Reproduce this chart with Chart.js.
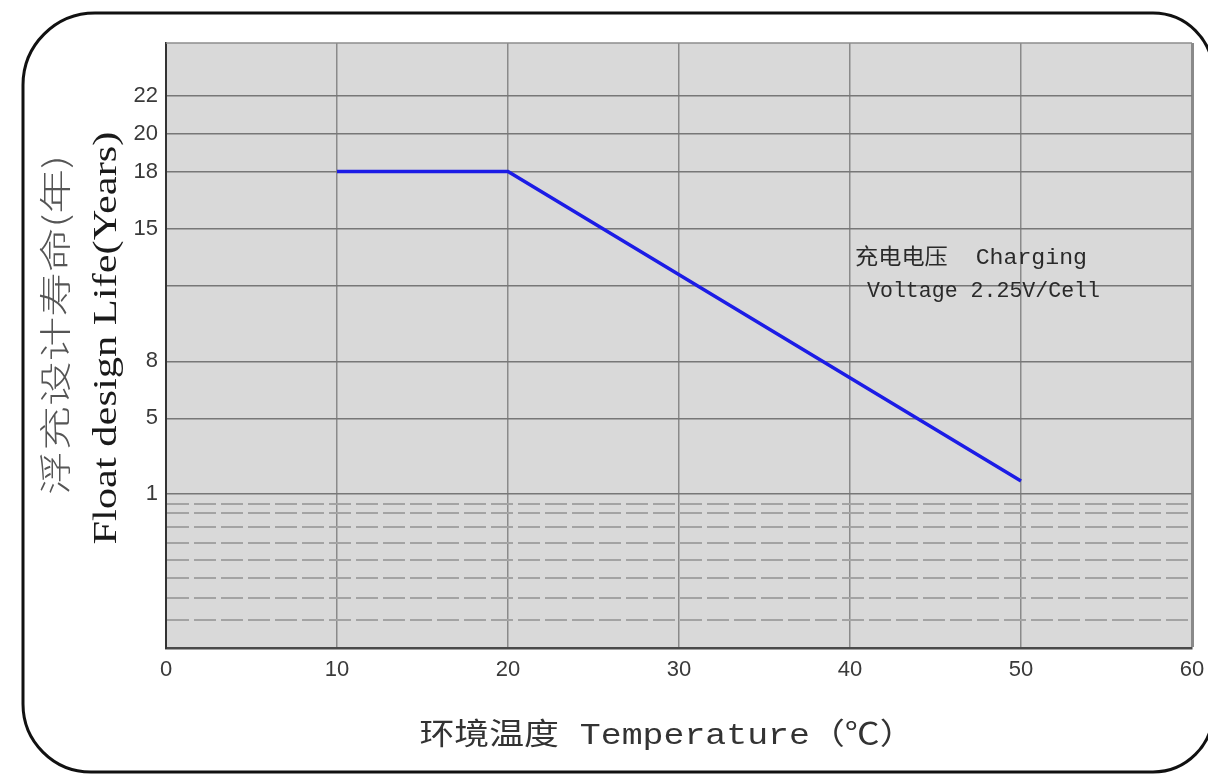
<!DOCTYPE html>
<html lang="zh-CN">
<head>
<meta charset="UTF-8" />
<title>浮充设计寿命</title>
<script src="https://cdn.jsdelivr.net/npm/chart.js"></script>
<style>
  html, body { margin: 0; padding: 0; background: #fff; }
</style>
</head>
<body>
<canvas id="lifeChart" width="1208" height="775"></canvas>
<script>
// 数据
const temperatures = [10, 20, 50];
const lifeYears = [18, 18, 1.7];
const yLabelTicks = [1, 5, 8, 15, 18, 20, 22];
const yPlainTicks = [12];
const yDashTicks = [-5.6, -4.45, -3.4, -2.45, -1.55, -0.75, 0, 0.5];
const xTicks = [0, 10, 20, 30, 40, 50, 60];
const yTitleCn = '浮充设计寿命(年)';
const yTitleEn = 'Float design Life(Years)';
const xTitle = '环境温度 Temperature（℃）';
const noteLines = ['充电电压  Charging', 'Voltage 2.25V/Cell'];

const Y_MIN = -7.1, Y_MAX = 24.77;

// text stretched to a given length (the original lettering is wide)
function stretchedText(ctx, text, x, y, font, color, len, align, rotate) {
  ctx.save();
  ctx.font = font;
  ctx.fillStyle = color;
  ctx.textAlign = align;
  ctx.textBaseline = 'middle';
  ctx.translate(x, y);
  if (rotate) ctx.rotate(-Math.PI / 2);
  const w = ctx.measureText(text).width;
  ctx.scale(len / w, 1);
  ctx.fillText(text, 0, 0);
  ctx.restore();
}

function roundedFrame(ctx) {
  const l = 23, t = 13, r = 1213, b = 772;
  const tl = 72, tr = 60, br = 60, bl = 68;
  ctx.save();
  ctx.beginPath();
  ctx.moveTo(l + tl, t);
  ctx.lineTo(r - tr, t);
  ctx.arcTo(r, t, r, t + tr, tr);
  ctx.lineTo(r, b - br);
  ctx.arcTo(r, b, r - br, b, br);
  ctx.lineTo(l + bl, b);
  ctx.arcTo(l, b, l, b - bl, bl);
  ctx.lineTo(l, t + tl);
  ctx.arcTo(l, t, l + tl, t, tl);
  ctx.closePath();
  ctx.lineWidth = 3;
  ctx.strokeStyle = '#111';
  ctx.stroke();
  ctx.restore();
}

const decor = {
  id: 'decor',
  beforeDraw(chart) {
    const {ctx, chartArea: a} = chart;
    ctx.save();
    ctx.fillStyle = '#d9d9d9';
    ctx.fillRect(a.left, a.top, a.right - a.left, a.bottom - a.top);
    ctx.restore();
  },
  beforeDatasetsDraw(chart) {
    const {ctx, chartArea: a} = chart;
    ctx.save();
    ctx.strokeStyle = '#8c8c8c';
    ctx.lineWidth = 1.5;
    ctx.beginPath();
    ctx.moveTo(a.left, a.top);
    ctx.lineTo(a.right, a.top);
    ctx.stroke();
    ctx.restore();
  },
  afterDraw(chart) {
    const ctx = chart.ctx;
    stretchedText(ctx, yTitleCn, 55, 325, '300 32px "Noto Sans CJK SC"', '#555', 340, 'center', true);
    stretchedText(ctx, yTitleEn, 107, 338, '34px "Liberation Serif"', '#1a1a1a', 413, 'center', true);
    stretchedText(ctx, xTitle, 667, 736, '30px "Liberation Mono", "Noto Sans CJK SC"', '#333', 495, 'center', false);
    stretchedText(ctx, noteLines[0], 855, 258, '22px "Liberation Mono", "Noto Sans CJK SC"', '#2a2a2a', 232, 'left', false);
    stretchedText(ctx, noteLines[1], 867, 291, '22px "Liberation Mono", "Noto Sans CJK SC"', '#2a2a2a', 233, 'left', false);
    roundedFrame(ctx);
  }
};

const isDash = c => c.tick && c.tick.value < 1;

const ctx = document.getElementById('lifeChart').getContext('2d');
new Chart(ctx, {
  type: 'line',
  data: {
    datasets: [{
      data: temperatures.map((t, i) => ({x: t, y: lifeYears[i]})),
      borderColor: '#1c1ce6',
      borderWidth: 3.5,
      pointRadius: 0,
      fill: false,
      tension: 0
    }]
  },
  options: {
    responsive: false,
    animation: false,
    devicePixelRatio: 1,
    layout: { padding: { left: 0, top: 43, right: 16, bottom: 0 } },
    plugins: { legend: { display: false }, tooltip: { enabled: false } },
    scales: {
      x: {
        type: 'linear',
        min: 0,
        max: 60,
        afterBuildTicks: s => { s.ticks = xTicks.map(v => ({value: v})); },
        afterFit: s => { s.height = 127; s.paddingLeft = 0; s.paddingRight = 0; },
        grid: {
          color: '#8a8a8a',
          lineWidth: c => (c.tick && c.tick.value === 60) ? 3 : 1.5,
          drawTicks: false
        },
        border: { color: '#4a4a4a', width: 2.5 },
        ticks: { padding: 9, color: '#3a3a3a', font: { family: 'Liberation Sans', size: 22 } }
      },
      y: {
        type: 'linear',
        min: Y_MIN,
        max: Y_MAX,
        afterBuildTicks: s => {
          s.ticks = [...yDashTicks, ...yLabelTicks, ...yPlainTicks]
            .sort((a, b) => a - b)
            .map(v => ({value: v}));
        },
        afterFit: s => { s.width = 166; s.paddingTop = 0; s.paddingBottom = 0; },
        grid: {
          color: c => isDash(c) ? '#a3a3a3' : '#777',
          lineWidth: c => isDash(c) ? 2 : 1.5,
          drawTicks: false
        },
        border: {
          color: '#333',
          width: 2,
          dash: c => isDash(c) ? [22, 5] : []
        },
        ticks: {
          autoSkip: false,
          padding: 8,
          color: '#3a3a3a',
          font: { family: 'Liberation Sans', size: 22 },
          callback: v => yLabelTicks.includes(v) ? String(v) : ''
        }
      }
    }
  },
  plugins: [decor]
});
</script>
</body>
</html>
